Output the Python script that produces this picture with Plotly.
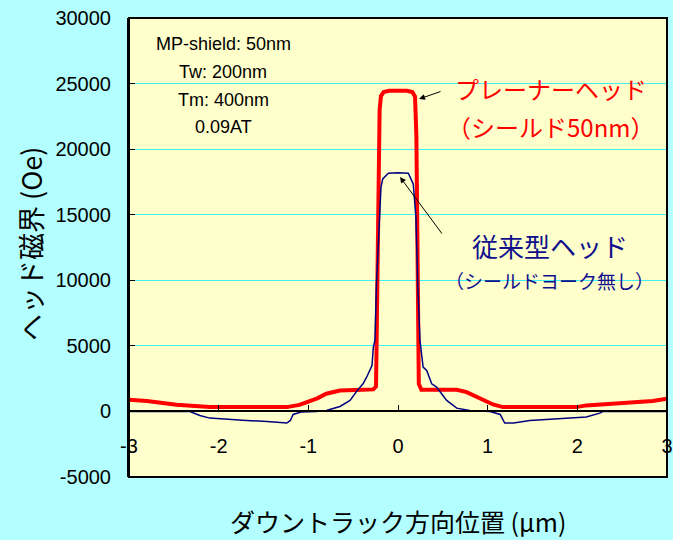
import plotly.graph_objects as go

# Planar head (shield 50nm) - red
red_x = [-3.0, -2.8, -2.47, -2.1, -1.6, -1.24, -1.1, -1.02, -0.9, -0.8, -0.647, -0.4, -0.275,
         -0.245, -0.24, -0.23, -0.215, -0.205, -0.19, -0.16, -0.1, 0.0, 0.1, 0.16, 0.19,
         0.205, 0.215, 0.222, 0.232, 0.26, 0.4, 0.655, 0.766, 0.915, 1.06, 1.17, 1.5,
         1.99, 2.1, 2.48, 2.7, 2.84, 3.0]
red_y = [890, 800, 510, 330, 330, 330, 500, 710, 1000, 1350, 1600, 1650, 1680,
         1900, 5000, 12000, 20000, 23000, 24050, 24350, 24450, 24450, 24450, 24350, 24000,
         21000, 12000, 4000, 2100, 1650, 1650, 1650, 1470, 970, 530, 330, 330,
         330, 460, 590, 690, 790, 970]

# Conventional head (no shield yoke) - blue
blue_x = [-3.0, -2.32, -2.21, -2.10, -1.69, -1.46, -1.24, -1.20, -1.17, -1.08, -0.91, -0.80,
          -0.647, -0.535, -0.46, -0.39, -0.35, -0.29, -0.275, -0.257, -0.24, -0.21, -0.19,
          -0.17, -0.108, 0.0, 0.115, 0.17, 0.2, 0.22, 0.245, 0.28, 0.32, 0.376, 0.43,
          0.524, 0.543, 0.655, 0.80, 1.026, 1.14, 1.19, 1.29, 1.47, 1.70, 2.10, 2.25,
          2.29, 3.0]
blue_y = [0, 0, -305, -510, -690, -760, -890, -690, -230, -50, 0, 76,
          380, 840, 1550, 2110, 2610, 3500, 4900, 5410, 9730, 14800, 17100,
          17730, 18160, 18200, 18160, 17350, 14800, 9730, 5410, 3380, 3120, 2110, 1850,
          1000, 840, 250, 76, 0, -230, -890, -890, -690, -590, -430, -130,
          0, 0]

y_ticks = [-5000, 0, 5000, 10000, 15000, 20000, 25000, 30000]
x_ticks = [-3, -2, -1, 0, 1, 2, 3]

params_lines = ["MP-shield: 50nm", "Tw: 200nm", "Tm: 400nm", "0.09AT"]
red_label = ["プレーナーヘッド", "（シールド50nm）"]
blue_label = ["従来型ヘッド", "（シールドヨーク無し）"]
x_title = "ダウントラック方向位置 (μm)"
y_title = "ヘッド磁界 (Oe)"

LAT = "Liberation Sans, Arial, Noto Sans CJK JP, sans-serif"
JP = "Noto Sans CJK JP, Liberation Sans, sans-serif"

fig = go.Figure()
fig.add_trace(go.Scatter(x=red_x, y=red_y, mode="lines",
                         line=dict(color="#FF0000", width=4), showlegend=False,
                         hoverinfo="skip"))
fig.add_trace(go.Scatter(x=blue_x, y=blue_y, mode="lines",
                         line=dict(color="#000080", width=1.5), showlegend=False,
                         hoverinfo="skip"))

W, H = 673, 540
L, R, T, B = 129, 6, 18, 63
pw, ph = W - L - R, H - T - B


def px(xp):
    return (xp - L) / pw


def py(yp):
    return (H - B - yp) / ph


ann = []
for txt, yy in zip(params_lines, [44, 72, 100, 127]):
    ann.append(dict(text=txt, x=px(223), y=py(yy), xref="paper", yref="paper",
                    showarrow=False, font=dict(family=LAT, size=18, color="black"),
                    xanchor="center", yanchor="middle"))
ann.append(dict(text=red_label[0], x=px(551), y=py(88), xref="paper", yref="paper",
                showarrow=False, font=dict(family=JP, size=24, color="#FF0000"),
                xanchor="center", yanchor="middle"))
ann.append(dict(text=red_label[1], x=px(551), y=py(126), xref="paper", yref="paper",
                showarrow=False, font=dict(family=JP, size=24, color="#FF0000"),
                xanchor="center", yanchor="middle"))
ann.append(dict(text=blue_label[0], x=px(550), y=py(245), xref="paper", yref="paper",
                showarrow=False, font=dict(family=JP, size=26, color="#10108C"),
                xanchor="center", yanchor="middle"))
ann.append(dict(text=blue_label[1], x=px(549), y=py(280), xref="paper", yref="paper",
                showarrow=False, font=dict(family=JP, size=19, color="#10108C"),
                xanchor="center", yanchor="middle"))
# arrows
ann.append(dict(text="", x=px(419), y=py(99), xref="paper", yref="paper",
                ax=23, ay=-8, showarrow=True, arrowhead=2, arrowsize=1.2,
                arrowwidth=1, arrowcolor="black"))
ann.append(dict(text="", x=px(400), y=py(177), xref="paper", yref="paper",
                ax=43, ay=58, showarrow=True, arrowhead=2, arrowsize=1.2,
                arrowwidth=1, arrowcolor="black"))
# axis titles
ann.append(dict(text=x_title, x=px(398), y=py(521), xref="paper", yref="paper",
                showarrow=False, font=dict(family=JP, size=25, color="black"),
                xanchor="center", yanchor="middle"))
ann.append(dict(text=y_title, x=px(31), y=py(244), xref="paper", yref="paper",
                showarrow=False, textangle=-90,
                font=dict(family=JP, size=27, color="black"),
                xanchor="center", yanchor="middle"))

fig.update_layout(
    width=W, height=H,
    margin=dict(l=L, r=R, t=T, b=B, pad=0, autoexpand=False),
    paper_bgcolor="#B3FFFF",
    plot_bgcolor="#FFFFCC",
    showlegend=False,
    annotations=ann,
    xaxis=dict(range=[-3, 3], tickvals=x_ticks, ticktext=[str(v) for v in x_ticks],
               anchor="free", position=1 / 7, showline=True, linecolor="black",
               linewidth=1.5, ticks="inside", ticklen=6, tickcolor="black",
               showgrid=False, zeroline=False, ticklabelstandoff=17,
               automargin=False,
               tickfont=dict(family=LAT, size=20, color="black")),
    yaxis=dict(range=[-5000, 30000], tickvals=y_ticks, ticktext=[str(v) for v in y_ticks],
               showline=True, linecolor="black", linewidth=2, ticks="inside",
               ticklen=6, tickcolor="black", showgrid=True, gridcolor="#40F0F0",
               gridwidth=1, zeroline=False, ticklabelstandoff=12,
               automargin=False,
               tickfont=dict(family=LAT, size=20, color="black")),
    shapes=[dict(type="rect", xref="paper", yref="paper", x0=0, y0=0, x1=1, y1=1,
                 line=dict(color="black", width=2), layer="above")],
)

fig.write_html("out.html",
               config={"displayModeBar": False},
               post_script="document.body.style.margin='0';"
                           "document.body.style.overflow='hidden';")
